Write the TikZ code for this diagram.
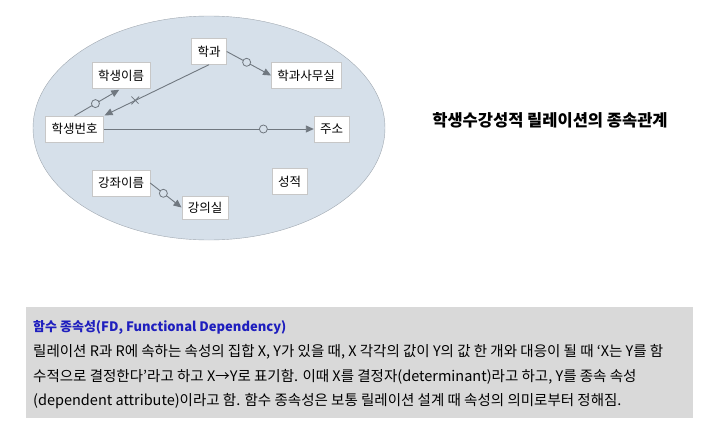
\documentclass[tikz,border=0pt]{standalone}
\usepackage{fontspec}
\setmainfont{Noto Sans CJK KR}
\usetikzlibrary{arrows.meta,shapes.misc}
\definecolor{ellfill}{RGB}{214,224,234}
\definecolor{ellline}{RGB}{160,168,176}
\definecolor{depgray}{RGB}{112,120,128}
\definecolor{boxgray}{RGB}{217,217,217}
\definecolor{fdblue}{RGB}{30,30,190}
\tikzset{
    attr/.style={rectangle, draw=black!22, fill=white, minimum height=26pt,
    	inner xsep=6pt, font=\fontsize{12.5}{14}\selectfont},
    dep/.style={draw=depgray, line width=0.9pt,
    	-{Triangle[length=8pt,width=7pt]}},
    omark/.style={circle, draw=depgray, fill=ellfill, line width=0.8pt,
    	minimum size=8pt, inner sep=0pt},
    xmark/.style={cross out, draw=depgray, line width=0.8pt,
    	minimum size=7pt, inner sep=0pt},
    body/.style={anchor=base west, inner sep=0pt,
    	font=\fontsize{14.5}{16}\selectfont}
}

\begin{document}
\begin{tikzpicture}
  \useasboundingbox (0pt,0pt) rectangle (726pt,-434pt);
  \draw [ellline, fill=ellfill] (209pt,-128pt) ellipse [x radius=176pt, y radius=112pt];

  \node (dept) [attr] at (209pt,-51.5pt) {학과};
  \node (sname) [attr] at (121pt,-75.5pt) {학생이름};
  \node (office) [attr] at (306pt,-75.5pt) {학과사무실};
  \node (sno) [attr] at (74.5pt,-129pt) {학생번호};
  \node (addr) [attr] at (331.5pt,-129pt) {주소};
  \node (cname) [attr] at (121pt,-183pt) {강좌이름};
  \node (room) [attr, minimum height=23pt] at (205pt,-207.5pt) {강의실};
  \node (grade) [attr] at (289.5pt,-181.5pt) {성적};

  \draw (sno.north) edge [dep, shorten >=2pt] node [omark, pos=.45] {} (sname.south);
  \draw (dept.south) edge [dep, shorten >=1pt] node [xmark, pos=.7] {} (sno.north east);
  \draw (dept.east) edge [dep] node [omark, pos=.45] {} (office.west);
  \draw (sno.east) edge [dep] node [omark, pos=.76] {} (addr.west);
  \draw (cname.east) edge [dep] node [omark, pos=.42] {} (room.west);

  \node (title) [font=\bfseries\fontsize{16.5}{18}\selectfont] at (550pt,-120pt) {학생수강성적 릴레이션의 종속관계};

  \node (fdbox) [fill=boxgray, minimum width=667pt, minimum height=111pt,
  	anchor=north west, inner sep=0pt] at (26pt,-307pt) {};
  \node (fdhead) [body, text=fdblue, font=\bfseries\fontsize{13}{15}\selectfont] at (33pt,-331pt) {함수 종속성(FD, Functional Dependency)};
  \node (fdline1) [body] at (33pt,-356pt) {릴레이션 R과 R에 속하는 속성의 집합 X, Y가 있을 때, X 각각의 값이 Y의 값 한 개와 대응이 될 때 ‘X는 Y를 함};
  \node (fdline2) [body] at (33pt,-381pt) {수적으로 결정한다’라고 하고 X→Y로 표기함. 이때 X를 결정자(determinant)라고 하고, Y를 종속 속성};
  \node (fdline3) [body] at (33pt,-405pt) {(dependent attribute)이라고 함. 함수 종속성은 보통 릴레이션 설계 때 속성의 의미로부터 정해짐.};
\end{tikzpicture}
\end{document}
